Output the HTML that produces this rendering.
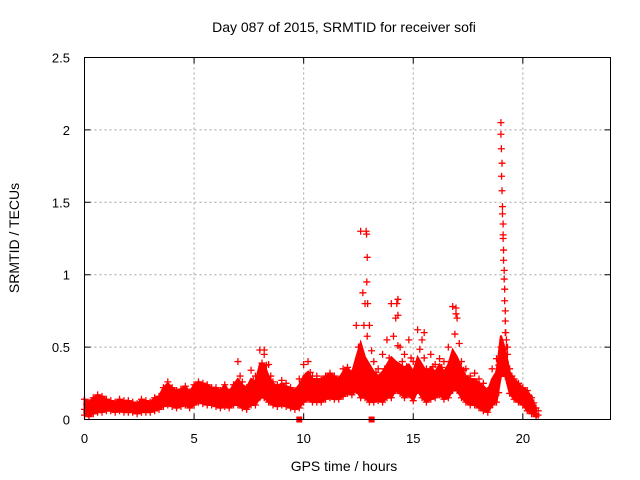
<!DOCTYPE html>
<html><head><meta charset="utf-8"><style>
body{margin:0;background:#fff;}
svg{display:block;font-family:"Liberation Sans",sans-serif;}
</style></head><body>
<svg id="chart" width="640" height="480" viewBox="0 0 640 480" xmlns="http://www.w3.org/2000/svg">
<rect width="640" height="480" fill="#fff"/>
<text x="344" y="32" font-size="14" text-anchor="middle">Day 087 of 2015, SRMTID for receiver sofi</text>
<text x="344" y="471" font-size="14" text-anchor="middle">GPS time / hours</text>
<text transform="translate(19,238) rotate(-90)" font-size="14" text-anchor="middle">SRMTID / TECUs</text>
<g id="grid"></g>
<g id="marks"></g>
<rect x="84.5" y="57.5" width="526" height="362" fill="none" stroke="#000" stroke-width="1"/>
<g id="ticks"></g>
</svg>
<script>
const xTicks=[0,5,10,15,20];
const xTickLabels=["0","5","10","15","20"];
const yTicks=[0,0.5,1,1.5,2,2.5];
const yTickLabels=["0","0.5","1","1.5","2","2.5"];
const binStart=0, binStep=0.2;
const hiVals=[.14,.12,.15,.17,.16,.14,.13,.12,.14,.13,.13,.12,.11,.14,.13,.12,.15,.16,.22,.26,.22,.2,.21,.23,.19,.24,.26,.25,.24,.22,.22,.2,.24,.19,.24,.4,.26,.22,.34,.3,.48,.45,.38,.26,.24,.27,.25,.22,.2,.28,.38,.4,.3,.3,.28,.3,.32,.3,.28,.35,.36,.32,.65,1.3,.8,.65,.4,.35,.45,.55,.8,.7,.5,.45,.55,.4,.62,.55,.35,.45,.38,.42,.4,.5,.78,.7,.4,.35,.3,.32,.28,.25,.2,.35,.42,2.05,.6,.35,.28,.25,.22,.2,.15,.08];
const midVals=[.07,.06,.08,.1,.09,.1,.09,.09,.1,.09,.09,.08,.08,.09,.09,.09,.1,.12,.15,.17,.15,.14,.15,.16,.14,.17,.19,.18,.17,.16,.15,.14,.16,.14,.17,.2,.16,.14,.2,.18,.3,.3,.22,.17,.15,.17,.15,.14,.13,.16,.22,.25,.2,.2,.2,.22,.24,.22,.21,.25,.28,.25,.35,.45,.35,.3,.25,.22,.25,.3,.35,.32,.3,.28,.3,.25,.35,.3,.25,.28,.25,.3,.25,.3,.4,.35,.28,.22,.2,.2,.17,.15,.12,.2,.25,0.5,.4,.25,.2,.18,.15,.12,.08,.04];
const loVals=[.03,.02,.04,.05,.05,.06,.06,.05,.06,.05,.05,.05,.04,.05,.05,.05,.06,.07,.09,.1,.09,.08,.09,.1,.08,.1,.12,.11,.1,.1,.09,.08,.09,.08,.1,.1,.08,.07,.1,.1,.15,.15,.12,.1,.09,.1,.09,.08,.07,.08,.12,.14,.12,.12,.12,.14,.15,.14,.14,.16,.18,.17,.2,.15,.15,.12,.12,.13,.12,.15,.15,.2,.18,.15,.17,.13,.2,.15,.12,.14,.15,.17,.14,.15,.2,.2,.15,.12,.1,.1,.08,.06,.05,.1,.12,.3,.3,.18,.14,.12,.1,.06,.04,.02];
const spikeTimes=[12.85,12.87,12.9,12.88,12.92,12.75,14.3,14.25,14.3,16.95,16.95,15.5,19.0,19.0,19.02,19.05,19.03,19.05,19.07,19.07,19.1,19.1,19.12,19.12,19.15,19.15,19.17,19.17,19.2,19.2,19.22,19.25,19.25,19.3,7.0,8.2,10.2];
const spikeVals=[1.3,1.28,1.12,0.95,0.8,0.65,0.83,0.8,0.72,0.77,0.73,0.6,2.05,1.97,1.87,1.77,1.68,1.58,1.47,1.42,1.35,1.25,1.17,1.1,1.03,0.97,0.9,0.82,0.75,0.68,0.6,0.55,0.5,0.45,0.4,0.48,0.4];
const zeroTimes=[9.8,13.1];

const X0=84.5,X1=610.5,Y0=419.5,Y1=57.5;
const xs=t=>X0+(t/24)*(X1-X0);
const ys=v=>Y0-(v/2.5)*(Y0-Y1);
const NS="http://www.w3.org/2000/svg";
const grid=document.getElementById('grid'),ticks=document.getElementById('ticks'),marks=document.getElementById('marks');
function mk(tag,attrs,parent){const e=document.createElementNS(NS,tag);for(const k in attrs)e.setAttribute(k,attrs[k]);parent.appendChild(e);return e;}

xTicks.forEach((t,i)=>{
  const x=xs(t);
  if(t>0){const g=mk('line',{x1:x,x2:x,y1:Y0,y2:Y1,stroke:'#a0a0a0','stroke-dasharray':'2,3'},grid);
  
  }
  const tk=mk('path',{d:`M${x},${Y0}v-6M${x},${Y1}v6`,stroke:'#000'},ticks);
  
  
  const l=mk('text',{x:x,y:443,'font-size':13,'text-anchor':'middle'},ticks);l.textContent=xTickLabels[i];
  
  
});
yTicks.forEach((v,i)=>{
  const y=ys(v);
  if(v>0&&v<2.5){const g=mk('line',{x1:X0,x2:X1,y1:y,y2:y,stroke:'#a0a0a0','stroke-dasharray':'2,3'},grid);
  
  }
  const tk=mk('path',{d:`M${X0},${y}h6M${X1},${y}h-6`,stroke:'#000'},ticks);
  
  
  const l=mk('text',{x:70,y:y+5,'font-size':13,'text-anchor':'end'},ticks);l.textContent=yTickLabels[i];
  
  
});

let d='',band='';
function cross(t,v){const x=xs(t),y=ys(v);d+=`M${x-3.5},${y}h7M${x},${y-3.5}v7`;}
const n=hiVals.length;
band+=`M${xs(binStart)},${ys(loVals[0])}`;
for(let i=0;i<n;i++)band+=`L${xs(binStart+i*binStep)},${ys(loVals[i])}`;
for(let i=n-1;i>=0;i--){const top=Math.min(hiVals[i],midVals[i]+0.08);band+=`L${xs(binStart+i*binStep)},${ys(top)}`;}
band+='Z';
for(let i=0;i<n;i++){
  const t=binStart+i*binStep;
  cross(t,loVals[i]);cross(t,midVals[i]);cross(t,hiVals[i]);
  cross(t+binStep/2,(loVals[i]+midVals[i])/2);
  cross(t+binStep/2,(midVals[i]+hiVals[i])/2);
  if(i+1<n){cross(t+binStep/2,(midVals[i]+midVals[i+1])/2);}
}
spikeTimes.forEach((t,i)=>cross(t,spikeVals[i]));
const b=mk('path',{d:band,fill:'#ff0000',stroke:'#ff0000','stroke-width':2},marks);


const p=mk('path',{d:d,stroke:'#ff0000','stroke-width':1.3,fill:'none'},marks);


zeroTimes.forEach(t=>{
  const r=mk('rect',{x:xs(t)-3,y:Y0-3,width:6,height:6,fill:'#ff0000'},marks);
  
  
});
</script>
</body></html>
